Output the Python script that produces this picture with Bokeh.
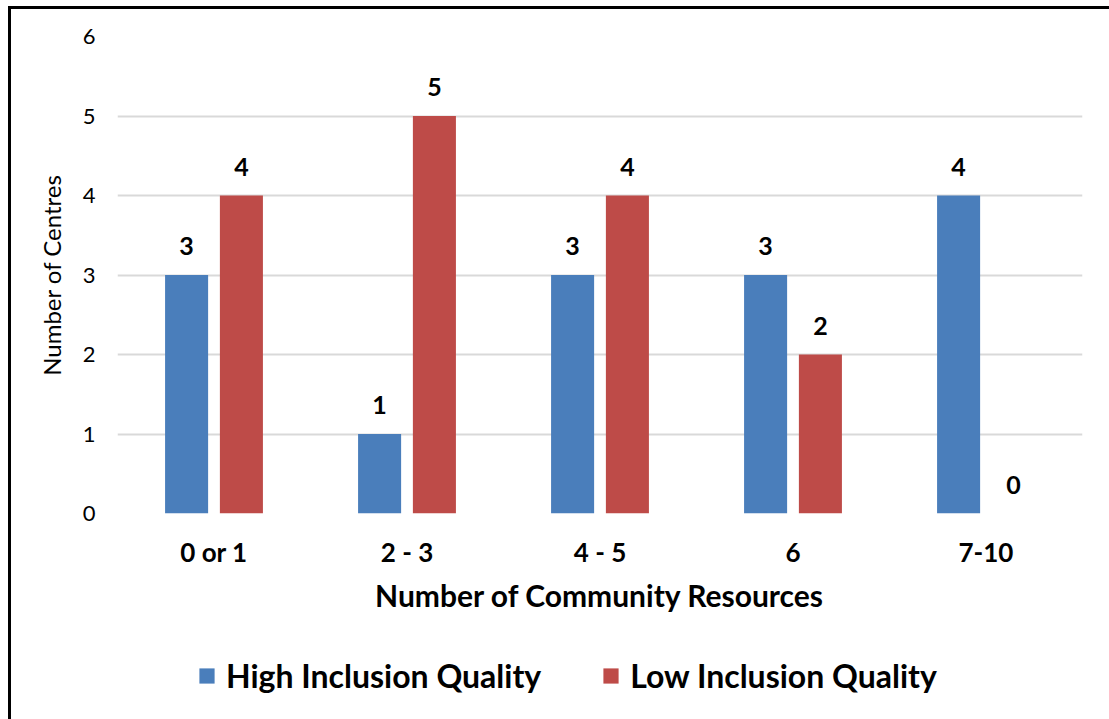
from bokeh.plotting import figure
from bokeh.layouts import column
from bokeh.models import ColumnDataSource, FactorRange, Legend, LegendItem, LabelSet
from bokeh.transform import dodge
from bokeh.core.properties import value
from bokeh.embed import file_html
from bokeh.resources import INLINE

# Data
categories = ["0 or 1", "2 - 3", "4 - 5", "6", "7-10"]
high_quality = [3, 1, 3, 3, 4]
low_quality = [4, 5, 4, 2, 0]
y_ticks = [0, 1, 2, 3, 4, 5, 6]

series_names = ["High Inclusion Quality", "Low Inclusion Quality"]
BLUE = "#4A7EBB"
RED = "#BE4B48"
FONT = "Lato"

source = ColumnDataSource(dict(
    cat=categories,
    high=high_quality,
    low=low_quality,
    high_txt=[str(v) for v in high_quality],
    low_txt=[str(v) for v in low_quality],
))

# Main bar chart
p = figure(
    x_range=FactorRange(*categories),
    y_range=(0, 6),
    width=1101, height=620,
    output_backend="svg",
    toolbar_location=None,
    min_border_left=106, min_border_top=27,
    min_border_right=30, min_border_bottom=116,
)
p.outline_line_color = None
p.background_fill_color = "white"
p.border_fill_color = "white"

OFF = 0.142
BW = 0.223
p.vbar(x=dodge("cat", -OFF, range=p.x_range), top="high", width=BW,
       source=source, fill_color=BLUE, line_color=None)
p.vbar(x=dodge("cat", OFF, range=p.x_range), top="low", width=BW,
       source=source, fill_color=RED, line_color=None)

for col, off in (("high", -OFF), ("low", OFF)):
    p.add_layout(LabelSet(
        x=dodge("cat", off, range=p.x_range), y=col, text=col + "_txt",
        source=source, text_align="center", text_baseline="alphabetic",
        y_offset=20, text_font=value(FONT), text_font_style="bold",
        text_font_size="25px", text_color="black",
    ))

# Grid
p.xgrid.grid_line_color = None
p.ygrid.grid_line_color = "#D9D9D9"
p.ygrid.grid_line_width = 2
p.yaxis.ticker = y_ticks

# Y axis
p.yaxis.axis_line_color = None
p.yaxis.major_tick_line_color = None
p.yaxis.minor_tick_line_color = None
p.yaxis.major_tick_out = 0
p.yaxis.major_label_standoff = 22
p.yaxis.major_label_text_font = FONT
p.yaxis.major_label_text_font_size = "22px"
p.yaxis.major_label_text_color = "black"
p.yaxis.axis_label = "Number of Centres"
p.yaxis.axis_label_text_font = FONT
p.yaxis.axis_label_text_font_style = "normal"
p.yaxis.axis_label_text_font_size = "24px"
p.yaxis.axis_label_text_color = "black"
p.yaxis.axis_label_standoff = 14

# X axis
p.xaxis.axis_line_color = None
p.xaxis.major_tick_line_color = None
p.xaxis.major_tick_out = 0
p.xaxis.major_label_standoff = 22
p.xaxis.major_label_text_font = FONT
p.xaxis.major_label_text_font_style = "bold"
p.xaxis.major_label_text_font_size = "26px"
p.xaxis.major_label_text_color = "black"
p.xaxis.axis_label = "Number of Community Resources"
p.xaxis.axis_label_text_font = FONT
p.xaxis.axis_label_text_font_style = "bold"
p.xaxis.axis_label_text_font_size = "30px"
p.xaxis.axis_label_text_color = "black"
p.xaxis.axis_label_standoff = 6

# Legend strip under the chart; its key swatches are zero-height bars
leg = figure(
    width=1101, height=100,
    x_range=(0, 1), y_range=(0, 1),
    x_axis_location=None, y_axis_location=None,
    output_backend="svg", toolbar_location=None,
    min_border=0,
)
leg.grid.grid_line_color = None
leg.outline_line_color = None
leg.background_fill_alpha = 0
leg.border_fill_alpha = 0
k_high = leg.vbar(x=[0.5], top=[0], width=0.0, fill_color=BLUE, line_color=None)
k_low = leg.vbar(x=[0.5], top=[0], width=0.0, fill_color=RED, line_color=None)

legend = Legend(
    items=[LegendItem(label=series_names[0], renderers=[k_high]),
           LegendItem(label=series_names[1], renderers=[k_low])],
    orientation="horizontal",
    location=(80, 34),
    padding=0, margin=0,
    glyph_width=19, glyph_height=19,
    label_standoff=10, spacing=60,
    label_text_font=FONT, label_text_font_style="bold",
    label_text_font_size="32px", label_text_color="black",
    border_line_color=None, background_fill_alpha=0,
)
leg.add_layout(legend, "center")

page = column(
    p, leg, spacing=0,
    margin=(6, 0, 0, 8),
    styles={"border-left": "3px solid black", "border-top": "3px solid black",
            "background-color": "white"},
)

open("out.html", "w").write(file_html(page, INLINE))
